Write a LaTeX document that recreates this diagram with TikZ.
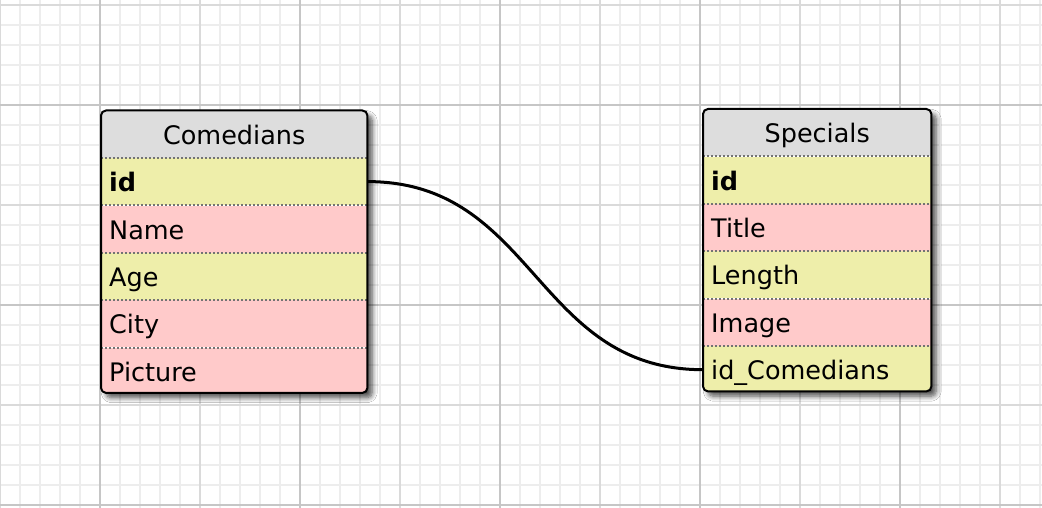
\documentclass[tikz,border=0pt]{standalone}
\usepackage{fontspec}
\setmainfont{DejaVu Sans}
\usetikzlibrary{positioning,shadows.blur}
\definecolor{keyyellow}{HTML}{EEEEAA}
\definecolor{fieldpink}{HTML}{FFCACA}
\definecolor{headgray}{HTML}{DDDDDD}
\definecolor{gridminor}{HTML}{EDEDED}
\definecolor{gridmid}{HTML}{DADADA}
\definecolor{gridmajor}{HTML}{C6C6C6}
\tikzstyle{every node}=[inner xsep=8pt,inner ysep=0pt,minimum height=47pt,text height=20pt,text depth=0pt,font=\fontsize{25.5}{30}\selectfont]
\tikzstyle{tablebox}=[anchor=north west,fill=white,rounded corners=5pt,
  blur shadow={shadow xshift=5pt,shadow yshift=-5pt,shadow blur radius=5pt,shadow blur steps=8,shadow opacity=70}]
\tikzstyle{head}=[fill=headgray,align=center]
\tikzstyle{keyrow}=[fill=keyyellow,align=left]
\tikzstyle{fieldrow}=[fill=fieldpink,align=left]
\tikzstyle{tableline}=[draw=black,line width=2pt,rounded corners=5pt]
\tikzstyle{sepline}=[draw=black!55,line width=2pt,dash pattern=on 2pt off 2pt]
\tikzstyle{relation}=[draw=black,line width=3pt]

\begin{document}
\begin{tikzpicture}[x=1pt,y=-1pt]
	\useasboundingbox (0,0) rectangle (1042,508);
	\fill[white] (0,0) rectangle (1042,508);
	% background grid
	\foreach \x in {0,20,...,1040} \draw[gridminor,line width=2pt] (\x,0) -- (\x,508);
	\foreach \y in {5,25,...,505} \draw[gridminor,line width=2pt] (0,\y) -- (1042,\y);
	\foreach \x in {0,200,...,1000} \draw[gridmid,line width=2pt] (\x,0) -- (\x,508);
	\foreach \y in {5,205,405} \draw[gridmid,line width=2pt] (0,\y) -- (1042,\y);
	\foreach \x in {100,300,...,900} \draw[gridmajor,line width=2pt] (\x,0) -- (\x,508);
	\foreach \y in {105,305,505} \draw[gridmajor,line width=2pt] (0,\y) -- (1042,\y);

	% Comedians
	\node[tablebox,minimum width=266pt,minimum height=282pt] (comedians) at (101,110.5) {};
	\begin{scope}[every node/.append style={text width=250pt}]
		\clip[rounded corners=5pt] (comedians.north west) rectangle (comedians.south east);
		\node[head,below right=0pt of comedians.north west] (c0) {Comedians};
		\node[keyrow,below=0pt of c0] (c1) {\textbf{id}};
		\node[fieldrow,below=0pt of c1] (c2) {Name};
		\node[keyrow,below=0pt of c2] (c3) {Age};
		\node[fieldrow,below=0pt of c3] (c4) {City};
		\node[fieldrow,below=0pt of c4] (c5) {Picture};
	\end{scope}
	\foreach \r in {c1,c2,c3,c4,c5} \draw[sepline] (\r.north west) -- (\r.north east);
	\draw[tableline] (comedians.north west) rectangle (comedians.south east);

	% Specials
	\node[tablebox,minimum width=228pt,minimum height=282pt] (specials) at (703,109) {};
	\begin{scope}[every node/.append style={text width=212pt}]
		\clip[rounded corners=5pt] (specials.north west) rectangle (specials.south east);
		\node[head,below right=0pt of specials.north west] (s0) {Specials};
		\node[keyrow,below=0pt of s0] (s1) {\textbf{id}};
		\node[fieldrow,below=0pt of s1] (s2) {Title};
		\node[keyrow,below=0pt of s2] (s3) {Length};
		\node[fieldrow,below=0pt of s3] (s4) {Image};
		\node[keyrow,below=0pt of s4] (s5) {id\_Comedians};
	\end{scope}
	\foreach \r in {s1,s2,s3,s4,s5} \draw[sepline] (\r.north west) -- (\r.north east);
	\draw[tableline] (specials.north west) rectangle (specials.south east);

	% relation
	\draw[relation] (c1.east) .. controls +(168,0) and +(-168,0) .. (s5.west);
\end{tikzpicture}
\end{document}
